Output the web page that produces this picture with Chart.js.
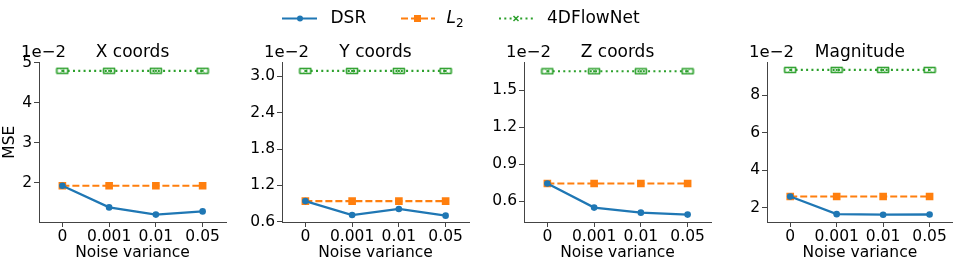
<!DOCTYPE html>
<html>
<head>
<meta charset="utf-8">
<script src="https://cdn.jsdelivr.net/npm/chart.js@4/dist/chart.umd.min.js"></script>
<style>
  body { margin: 0; background: #fff; }
  #wrap { position: relative; width: 959px; height: 266px; }
  #wrap canvas { position: absolute; left: 0; top: 0; }
</style>
</head>
<body>
<div id="wrap">
  <canvas id="c0" width="959" height="266"></canvas>
  <canvas id="c1" width="959" height="266"></canvas>
  <canvas id="c2" width="959" height="266"></canvas>
  <canvas id="c3" width="959" height="266"></canvas>
</div>
<script>
// x categories (noise variance)
const noiseLabels = ['0', '0.001', '0.01', '0.05'];
const panelTitles = ['X coords', 'Y coords', 'Z coords', 'Magnitude'];
const seriesNames = ['DSR', 'L2', '4DFlowNet'];

// MSE values, in units of 1e-2
const dsrX  = [1.93, 1.39, 1.21, 1.29];
const l2X   = [1.93, 1.93, 1.93, 1.93];
const flowX = [4.80, 4.80, 4.80, 4.80];

const dsrY  = [0.94, 0.71, 0.81, 0.70];
const l2Y   = [0.94, 0.94, 0.94, 0.94];
const flowY = [3.09, 3.09, 3.09, 3.09];

const dsrZ  = [0.743, 0.547, 0.506, 0.490];
const l2Z   = [0.743, 0.743, 0.743, 0.743];
const flowZ = [1.656, 1.656, 1.656, 1.656];

const dsrMag  = [2.60, 1.66, 1.63, 1.64];
const l2Mag   = [2.60, 2.60, 2.60, 2.60];
const flowMag = [9.36, 9.36, 9.36, 9.36];

// y tick labels
const ticksX   = [2, 3, 4, 5];
const ticksY   = [0.6, 1.2, 1.8, 2.4, 3.0];
const ticksZ   = [0.6, 0.9, 1.2, 1.5];
const ticksMag = [2, 4, 6, 8];

const BLUE = '#1f77b4', ORANGE = '#ff7f0e', GREEN = '#2ca02c';
const FONT = 'DejaVu Sans';
const AXIS = '#444';

const panels = [
  { title: panelTitles[0], dsr: dsrX, l2: l2X, flow: flowX, ticks: ticksX, dec: 0, min: 1.025, max: 5.01, left: 39, right: 226, yTitle: 'MSE' },
  { title: panelTitles[1], dsr: dsrY, l2: l2Y, flow: flowY, ticks: ticksY, dec: 1, min: 0.595, max: 3.23, left: 282, right: 469 },
  { title: panelTitles[2], dsr: dsrZ, l2: l2Z, flow: flowZ, ticks: ticksZ, dec: 1, min: 0.43, max: 1.728, left: 524, right: 711 },
  { title: panelTitles[3], dsr: dsrMag, l2: l2Mag, flow: flowMag, ticks: ticksMag, dec: 0, min: 1.24, max: 9.76, left: 767, right: 954 }
];

// error-bar look for 4DFlowNet points (two caps + small x)
function errGlyph() {
  const c = document.createElement('canvas');
  c.width = 14; c.height = 8;
  const g = c.getContext('2d');
  g.strokeStyle = GREEN;
  g.lineWidth = 1.6;
  g.beginPath();
  g.moveTo(1, 1.5); g.lineTo(13, 1.5);
  g.moveTo(1, 6.5); g.lineTo(13, 6.5);
  g.moveTo(1.5, 1.5); g.lineTo(1.5, 6.5);
  g.moveTo(12.5, 1.5); g.lineTo(12.5, 6.5);
  g.stroke();
  g.lineWidth = 1;
  g.beginPath();
  g.moveTo(5.5, 2.5); g.lineTo(8.5, 5.5);
  g.moveTo(8.5, 2.5); g.lineTo(5.5, 5.5);
  g.stroke();
  return c;
}
const glyph = errGlyph();

// "1e-2" offset text above each y axis
const offsetText = {
  id: 'offsetText',
  afterDraw(chart) {
    const ctx = chart.ctx, a = chart.chartArea;
    ctx.save();
    ctx.font = '16.5px ' + FONT;
    ctx.fillStyle = '#000';
    ctx.textAlign = 'left';
    ctx.textBaseline = 'middle';
    ctx.fillText('1e\u22122', a.left - 18, 52.5);
    ctx.restore();
  }
};

// shared legend drawn on the first canvas
const topLegend = {
  id: 'topLegend',
  afterDraw(chart) {
    const ctx = chart.ctx, y = 18.5;
    ctx.save();
    ctx.lineWidth = 2;
    // DSR
    ctx.strokeStyle = BLUE; ctx.fillStyle = BLUE;
    ctx.beginPath(); ctx.moveTo(282, y); ctx.lineTo(317, y); ctx.stroke();
    ctx.beginPath(); ctx.arc(300, y, 3, 0, Math.PI * 2); ctx.fill();
    // L2
    ctx.strokeStyle = ORANGE; ctx.fillStyle = ORANGE;
    ctx.setLineDash([7, 3]);
    ctx.beginPath(); ctx.moveTo(401, y); ctx.lineTo(435, y); ctx.stroke();
    ctx.setLineDash([]);
    ctx.fillRect(417.5 - 3.5, y - 3.5, 7, 7);
    // 4DFlowNet
    ctx.strokeStyle = GREEN;
    ctx.setLineDash([2, 3.3]);
    ctx.beginPath(); ctx.moveTo(499, y); ctx.lineTo(533, y); ctx.stroke();
    ctx.setLineDash([]);
    ctx.lineWidth = 1.5;
    ctx.beginPath();
    ctx.moveTo(513.5, y - 2.5); ctx.lineTo(518.5, y + 2.5);
    ctx.moveTo(518.5, y - 2.5); ctx.lineTo(513.5, y + 2.5);
    ctx.stroke();
    // texts
    ctx.fillStyle = '#000';
    ctx.textBaseline = 'middle';
    ctx.font = '17px ' + FONT;
    ctx.fillText(seriesNames[0], 330.5, y + 0.5);
    ctx.font = 'italic 17px ' + FONT;
    ctx.fillText('L', 446.5, y + 0.5);
    ctx.font = '12px ' + FONT;
    ctx.fillText('2', 456, y + 5);
    ctx.font = '17px ' + FONT;
    ctx.fillText(seriesNames[2], 547, y + 0.5);
    ctx.restore();
  }
};

panels.forEach((p, i) => {
  const yW = 38;
  new Chart(document.getElementById('c' + i), {
    type: 'line',
    data: {
      labels: noiseLabels,
      datasets: [
        { label: seriesNames[0], data: p.dsr, borderColor: BLUE, backgroundColor: BLUE, borderWidth: 2.3,
          pointStyle: 'circle', pointRadius: 3.3, pointBorderWidth: 0, tension: 0 },
        { label: seriesNames[1], data: p.l2, borderColor: ORANGE, backgroundColor: ORANGE, borderWidth: 2.2,
          borderDash: [7, 3], pointStyle: 'rect', pointRadius: 5.4, pointBorderWidth: 0, tension: 0 },
        { label: seriesNames[2], data: p.flow, borderColor: GREEN, backgroundColor: GREEN, borderWidth: 2.2,
          borderDash: [2, 3.3], pointStyle: glyph, pointRadius: 4, tension: 0 }
      ]
    },
    options: {
      responsive: false,
      animation: false,
      events: [],
      layout: { padding: { left: p.left - yW, right: 959 - p.right, top: 42, bottom: 0 } },
      plugins: {
        legend: { display: false },
        tooltip: { enabled: false },
        title: { display: true, text: p.title, fullSize: false, color: '#000',
                 font: { family: FONT, size: 17, weight: 'normal' }, padding: { top: 0, bottom: 0 } }
      },
      scales: {
        x: {
          type: 'category',
          offset: true,
          grid: { drawOnChartArea: false, drawTicks: true, tickLength: 5, color: AXIS },
          border: { display: true, color: AXIS, width: 1 },
          ticks: { color: '#000', font: { family: FONT, size: 15.5 }, maxRotation: 0, autoSkip: false, padding: 1 },
          title: { display: true, text: 'Noise variance', color: '#000', font: { family: FONT, size: 15.5 }, padding: { top: 0, bottom: 4 } },
          afterFit(s) { s.height = 44; }
        },
        y: {
          min: p.min,
          max: p.max,
          afterBuildTicks(s) { s.ticks = p.ticks.map(v => ({ value: v })); },
          grid: { drawOnChartArea: false, drawTicks: true, tickLength: 5, color: AXIS },
          border: { display: true, color: AXIS, width: 1 },
          ticks: { color: '#000', font: { family: FONT, size: 15.5 }, padding: 2,
                   callback: v => Number(v).toFixed(p.dec) },
          title: { display: !!p.yTitle, text: p.yTitle || '', color: '#000', font: { family: FONT, size: 15.5 }, padding: { top: 0, bottom: 0 } },
          afterFit(s) { s.width = yW; }
        }
      }
    },
    plugins: i === 0 ? [offsetText, topLegend] : [offsetText]
  });
});
</script>
</body>
</html>
